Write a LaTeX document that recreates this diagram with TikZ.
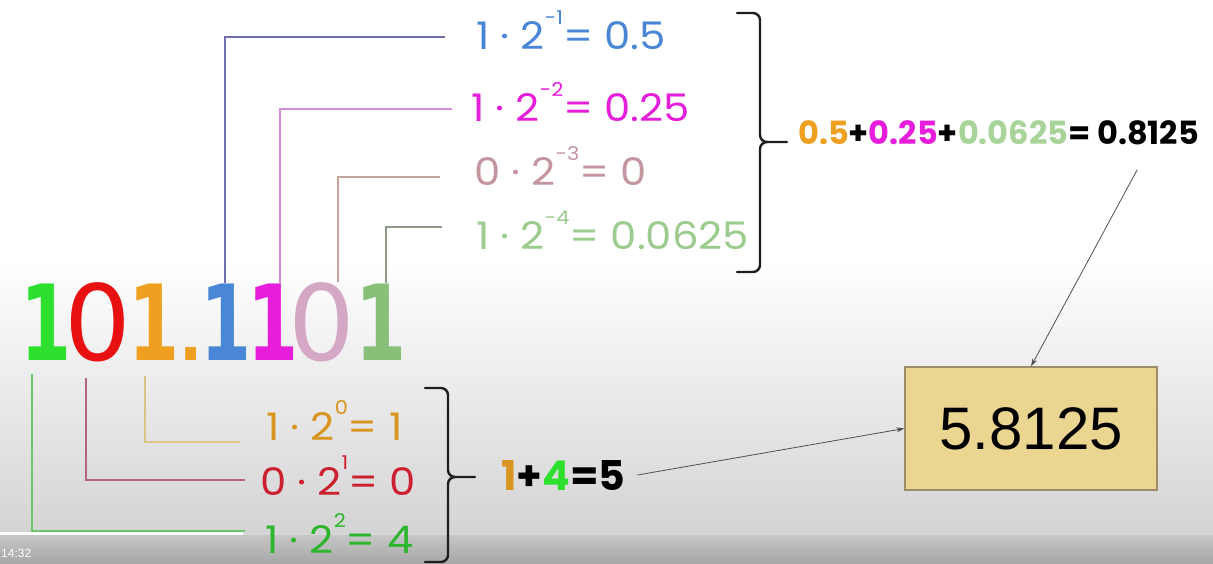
\documentclass[tikz,border=0pt]{standalone}
\usepackage{fontspec}
\usepackage{graphicx}
\usetikzlibrary{arrows.meta,calc}
\newfontfamily\eqf{Poppins}
\newfontfamily\bigf{DejaVu Sans}
\newfontfamily\arf{Liberation Sans}
\definecolor{gOneC}{HTML}{2EE02E}
\definecolor{rZeroC}{HTML}{E81010}
\definecolor{oOneC}{HTML}{F0A020}
\definecolor{bOneC}{HTML}{4A86D6}
\definecolor{mOneC}{HTML}{E61EDC}
\definecolor{pZeroC}{HTML}{D4A8C4}
\definecolor{lOneC}{HTML}{88C07A}
\definecolor{pZeroE}{HTML}{C4959F}
\definecolor{lOneE}{HTML}{9CCB8E}
\definecolor{oOneE}{HTML}{D9951F}
\definecolor{rZeroE}{HTML}{CC2030}
\definecolor{gOneE}{HTML}{2DB52D}
\definecolor{lOneS}{HTML}{A8D49A}
\definecolor{bL}{HTML}{6E6EB0}
\definecolor{mL}{HTML}{D08ED6}
\definecolor{pL}{HTML}{C4A49C}
\definecolor{lL}{HTML}{8E9A86}
\definecolor{oL}{HTML}{DCC488}
\definecolor{rL}{HTML}{B06878}
\definecolor{gL}{HTML}{6CC46C}
\definecolor{brkC}{HTML}{1E1E1E}
\definecolor{arrC}{HTML}{505050}
\definecolor{boxF}{HTML}{EAD591}
\definecolor{boxD}{HTML}{9C8C6A}
\definecolor{bgB}{HTML}{D4D4D4}
\definecolor{bgC}{HTML}{C8C8C8}
\definecolor{bgD}{HTML}{A6A6A6}
\definecolor{barC}{HTML}{D6D6D6}
\newcommand\eqn[3]{\scalebox{1.1}[1]{#1 · 2\raisebox{0.68em}{\fontsize{19}{19}\selectfont #2}= #3}}
\newcommand\bigone{\scalebox{0.7}[1]{\bfseries 1}}
\begin{document}
\begin{tikzpicture}[x=1pt,y=-1pt,
  bigd/.style={font=\bigf\fontsize{105}{105}\selectfont,anchor=base,inner sep=0pt},
  eqtxt/.style={font=\eqf\fontsize{38}{38}\selectfont,anchor=base west,inner sep=0pt},
  conn/.style={line width=1.3pt},
  brk/.style={line width=2.4pt,draw=brkC,line cap=round,line join=round},
  arr/.style={draw=arrC,line width=0.8pt,-{Stealth[length=8pt,width=5pt]}},
  sumtxt/.style={font=\eqf\bfseries\fontsize{32}{32}\selectfont,anchor=base west,inner sep=0pt}]
\useasboundingbox (0,0) rectangle (1213,564);
\clip (0,0) rectangle (1213,564);
% background
\fill[white] (0,0) rectangle (1213,564);
\shade[top color=white,bottom color=bgB] (0,260) rectangle (1213,533);
\shade[top color=bgC,bottom color=bgD] (0,533) rectangle (1213,564);
\fill[barC] (0,531.5) rectangle (1213,534.5);
\fill[white] (0,531.5) rectangle (243,534.5);
\node[anchor=north west,text=white,font=\arf\fontsize{12}{12}\selectfont,inner sep=0pt] (ts) at (1,549) {14:32};
% big number
\node[bigd,text=gOneC] (d1) at (46,360) {\bigone};
\node[bigd,text=rZeroC] (d2) at (98,360) {0};
\node[bigd,text=oOneC] (d3) at (154,360) {\bigone};
\node[bigd,text=oOneC] (dp) at (191,360) {.};
\node[bigd,text=bOneC] (d4) at (226,360) {\bigone};
\node[bigd,text=mOneC] (d5) at (273,360) {\bigone};
\node[bigd,text=pZeroC] (d6) at (322,360) {0};
\node[bigd,text=lOneC] (d7) at (381,360) {\bigone};
% equations
\node[eqtxt,text=bOneC] (e1) at (476,50) {\eqn{1}{-1}{0.5}};
\node[eqtxt,text=mOneC] (e2) at (471,122) {\eqn{1}{-2}{0.25}};
\node[eqtxt,text=pZeroE] (e3) at (474,186) {\eqn{0}{-3}{0}};
\node[eqtxt,text=lOneE] (e4) at (476,250) {\eqn{1}{-4}{0.0625}};
\node[eqtxt,text=oOneE] (f0) at (266,440) {\eqn{1}{0}{1}};
\node[eqtxt,text=rZeroE] (f1) at (260,495) {\eqn{0}{1}{0}};
\node[eqtxt,text=gOneE] (f2) at (265,553) {\eqn{1}{2}{4}};
% connectors
\draw[conn,draw=bL] ([xshift=-1pt]d4.north) |- ([xshift=-31pt,yshift=13pt]e1.base west);
\draw[conn,draw=mL] ([xshift=7pt]d5.north) |- ([xshift=-19pt,yshift=13pt]e2.base west);
\draw[conn,draw=pL] ([xshift=16pt]d6.north) |- ([xshift=-34pt,yshift=9pt]e3.base west);
\draw[conn,draw=lL] ([xshift=5pt]d7.north) |- ([xshift=-34pt,yshift=23pt]e4.base west);
\draw[conn,draw=oL] ([xshift=-9pt,yshift=-16pt]d3.south) |- ([xshift=-26pt,yshift=-2pt]f0.base west);
\draw[conn,draw=rL] ([xshift=-12pt,yshift=-16pt]d2.south) |- ([xshift=-15pt,yshift=15pt]f1.base west);
\draw[conn,draw=gL] ([xshift=-14pt,yshift=-14pt]d1.south) |- ([xshift=-20pt,yshift=22pt]f2.base west);
% brackets
\draw[brk] (737,13) -- (753,13) to[out=0,in=90] (760,20) -- (760,135) to[out=-90,in=180] (767,142) -- (787,142);
\draw[brk] (767,142) to[out=180,in=90] (760,149) -- (760,265) to[out=-90,in=0] (753,272) -- (737,272);
\draw[brk] (425,388) -- (441,388) to[out=0,in=90] (448,395) -- (448,470) to[out=-90,in=180] (455,477) -- (475,477);
\draw[brk] (455,477) to[out=180,in=90] (448,484) -- (448,555) to[out=-90,in=0] (441,562) -- (425,562);
% sums
\node[sumtxt] (s1) at (798,145) {\textcolor{oOneC}{0.5}+\textcolor{mOneC}{0.25}+\textcolor{lOneS}{0.0625}= 0.8125};
\node[sumtxt,font=\eqf\bfseries\fontsize{41}{41}\selectfont] (s2) at (501,490) {\textcolor{oOneE}{1}+\textcolor{gOneC}{4}=5};
% result box
\node[draw=boxD,fill=boxF,line width=1.2pt,minimum width=252pt,minimum height=123pt,inner sep=0pt,font=\arf\fontsize{60}{60}\selectfont] (res) at (1031,428.5) {5.8125};
% arrows
\draw[arr] ([xshift=-62pt,yshift=-24pt]s1.south east) -- (res.north);
\draw[arr] ([xshift=12pt]s2.east) -- (res.west);
\end{tikzpicture}
\end{document}
